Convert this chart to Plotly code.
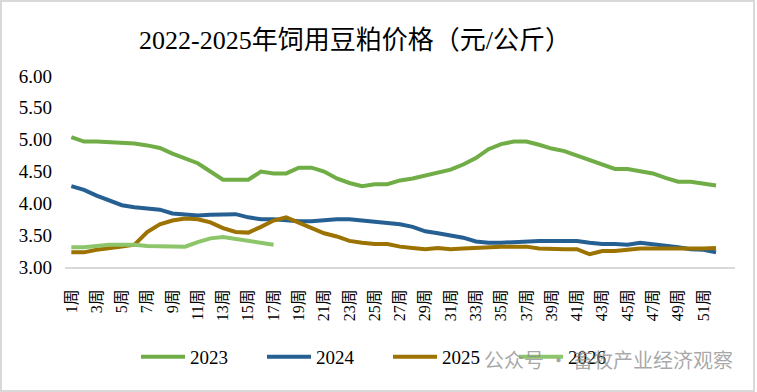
import plotly.graph_objects as go

weeks = list(range(1, 53))
tick_weeks = list(range(1, 52, 2))
tick_labels = [f"{w}周" for w in tick_weeks]

y2023 = [5.04, 4.97, 4.97, 4.96, 4.95, 4.94, 4.91, 4.87, 4.78, 4.71, 4.63, 4.50, 4.37,
         4.37, 4.37, 4.50, 4.47, 4.47, 4.56, 4.56, 4.50, 4.39, 4.32, 4.27, 4.30, 4.30,
         4.36, 4.39, 4.44, 4.49, 4.53, 4.61, 4.71, 4.85, 4.93, 4.97, 4.97, 4.92, 4.86,
         4.82, 4.75, 4.68, 4.60, 4.54, 4.54, 4.51, 4.47, 4.40, 4.34, 4.34, 4.31, 4.28]
y2024 = [4.27, 4.21, 4.12, 4.04, 3.97, 3.94, 3.92, 3.90, 3.84, 3.82, 3.81, 3.82, 3.83,
         3.83, 3.78, 3.75, 3.75, 3.73, 3.72, 3.72, 3.74, 3.75, 3.75, 3.73, 3.70, 3.68,
         3.67, 3.63, 3.56, 3.53, 3.50, 3.46, 3.40, 3.38, 3.38, 3.39, 3.41, 3.41, 3.41,
         3.41, 3.41, 3.38, 3.36, 3.36, 3.35, 3.38, 3.36, 3.33, 3.31, 3.28, 3.27, 3.23]
y2025 = [3.23, 3.23, 3.27, 3.29, 3.32, 3.35, 3.55, 3.67, 3.73, 3.76, 3.75, 3.70, 3.61,
         3.55, 3.54, 3.63, 3.73, 3.78, 3.70, 3.62, 3.53, 3.48, 3.41, 3.38, 3.36, 3.36,
         3.32, 3.30, 3.28, 3.30, 3.28, 3.29, 3.30, 3.32, 3.32, 3.32, 3.32, 3.29, 3.28,
         3.28, 3.28, 3.20, 3.25, 3.25, 3.27, 3.29, 3.29, 3.29, 3.29, 3.28, 3.29, 3.30]
y2026 = [3.31, 3.31, 3.33, 3.35, 3.35, 3.35, 3.33, 3.33, 3.32, 3.32, 3.39, 3.45, 3.47,
         3.44, 3.41, 3.39, 3.35]

series = [("2023", y2023, "#70AD47"), ("2024", y2024, "#265F92"),
          ("2025", y2025, "#9C7300"), ("2026", y2026, "#8DC56B")]

W, H = 757, 392
ML, MR, MT, MB = 65, 22, 76, 125
PW, PH = W - ML - MR, H - MT - MB

fig = go.Figure()
for name, ys, col in series:
    fig.add_trace(go.Scatter(x=weeks[:len(ys)], y=ys, name=name, mode="lines",
                             line=dict(color=col, width=4)))

serif = "Liberation Serif, Times New Roman, Noto Sans CJK SC"

def px_x(p):
    return (p - ML) / PW

def px_y(p):
    return (H - MB - p) / PH

fig.update_layout(
    width=W, height=H,
    margin=dict(l=ML, r=MR, t=MT, b=MB, autoexpand=False),
    paper_bgcolor="white", plot_bgcolor="white",
    title=dict(text="2022-2025年饲用豆粕价格（元/公斤）", x=355 / W, xanchor="center",
               y=1 - 40 / H, yanchor="middle", xref="container", yref="container",
               font=dict(family=serif, size=26, color="black")),
    xaxis=dict(range=[0.5, 53.5], tickmode="array", tickvals=tick_weeks, ticktext=tick_labels,
               tickangle=-90, showgrid=False, zeroline=False, showline=True, automargin=False,
               linecolor="#D9D9D9", linewidth=1.5, ticks="", ticklabelstandoff=14,
               tickfont=dict(family=serif, size=16, color="black")),
    yaxis=dict(range=[3, 6], dtick=0.5, tickformat=".2f", showgrid=False, zeroline=False,
               showline=False, ticks="", ticklabelstandoff=12, automargin=False,
               tickfont=dict(family=serif, size=19, color="black")),
    legend=dict(orientation="h", xref="container", yref="container", x=136 / W, xanchor="left",
                y=1 - 357 / H, yanchor="middle", entrywidth=67, itemwidth=44,
                font=dict(family=serif, size=19, color="black")),
    showlegend=True,
)

fig.add_shape(type="rect", xref="paper", yref="paper",
              x0=px_x(1), x1=px_x(754), y0=px_y(391), y1=px_y(1),
              line=dict(color="#D9D9D9", width=2), fillcolor="rgba(0,0,0,0)", layer="below")

fig.add_annotation(text="公众号 · 畜牧产业经济观察", xref="paper", yref="paper",
                   x=px_x(482), y=px_y(359), xanchor="left", yanchor="middle", showarrow=False,
                   font=dict(family="Noto Sans CJK SC", size=20, color="rgba(140,140,140,0.75)"))

fig.write_html("out.html", config={"displayModeBar": False},
               post_script="document.body.style.margin='0';")
